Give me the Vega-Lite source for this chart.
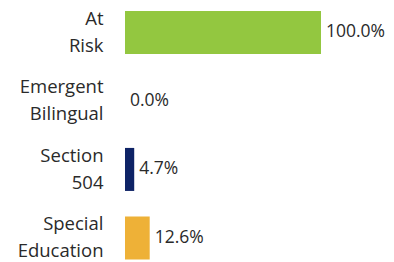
{
  "$schema": "https://vega.github.io/schema/vega-lite/v6.json",
  "width": 196,
  "height": 262,
  "autosize": {"type": "none"},
  "padding": {"left": 125, "top": 0, "right": 73, "bottom": 0},
  "background": "white",
  "config": {"view": {"stroke": null}, "font": "Open Sans"},
  "data": {
    "values": [
      {"group": "At Risk", "value": 1.0},
      {"group": "Emergent Bilingual", "value": 0.0},
      {"group": "Section 504", "value": 0.047},
      {"group": "Special Education", "value": 0.126}
    ]
  },
  "encoding": {
    "y": {
      "field": "group",
      "type": "nominal",
      "sort": null,
      "title": null,
      "scale": {"paddingInner": 0.372, "paddingOuter": 0.0985, "align": 0.81},
      "axis": {
        "domain": false,
        "ticks": false,
        "labelPadding": 22,
        "labelFont": "Open Sans",
        "labelFontSize": 18.5,
        "labelColor": "#2a2a2a",
        "labelLineHeight": 27,
        "labelAlign": "right",
        "labelBaseline": "middle",
        "labelOffset": -13.5,
        "labelLimit": 200,
        "labelExpr": "split(datum.value, ' ')"
      }
    },
    "x": {
      "field": "value",
      "type": "quantitative",
      "scale": {"domain": [0, 1], "nice": false},
      "axis": null
    }
  },
  "layer": [
    {
      "mark": {"type": "bar"},
      "encoding": {
        "color": {
          "field": "group",
          "type": "nominal",
          "scale": {
            "domain": ["At Risk", "Emergent Bilingual", "Section 504", "Special Education"],
            "range": ["#93C740", "#5B9BD5", "#0E2366", "#EEB137"]
          },
          "legend": null
        }
      }
    },
    {
      "mark": {"type": "text", "align": "left", "baseline": "middle", "dx": 5, "fontSize": 17.5, "color": "#2a2a2a"},
      "encoding": {
        "text": {"field": "value", "type": "quantitative", "format": ".1%"}
      }
    }
  ]
}
